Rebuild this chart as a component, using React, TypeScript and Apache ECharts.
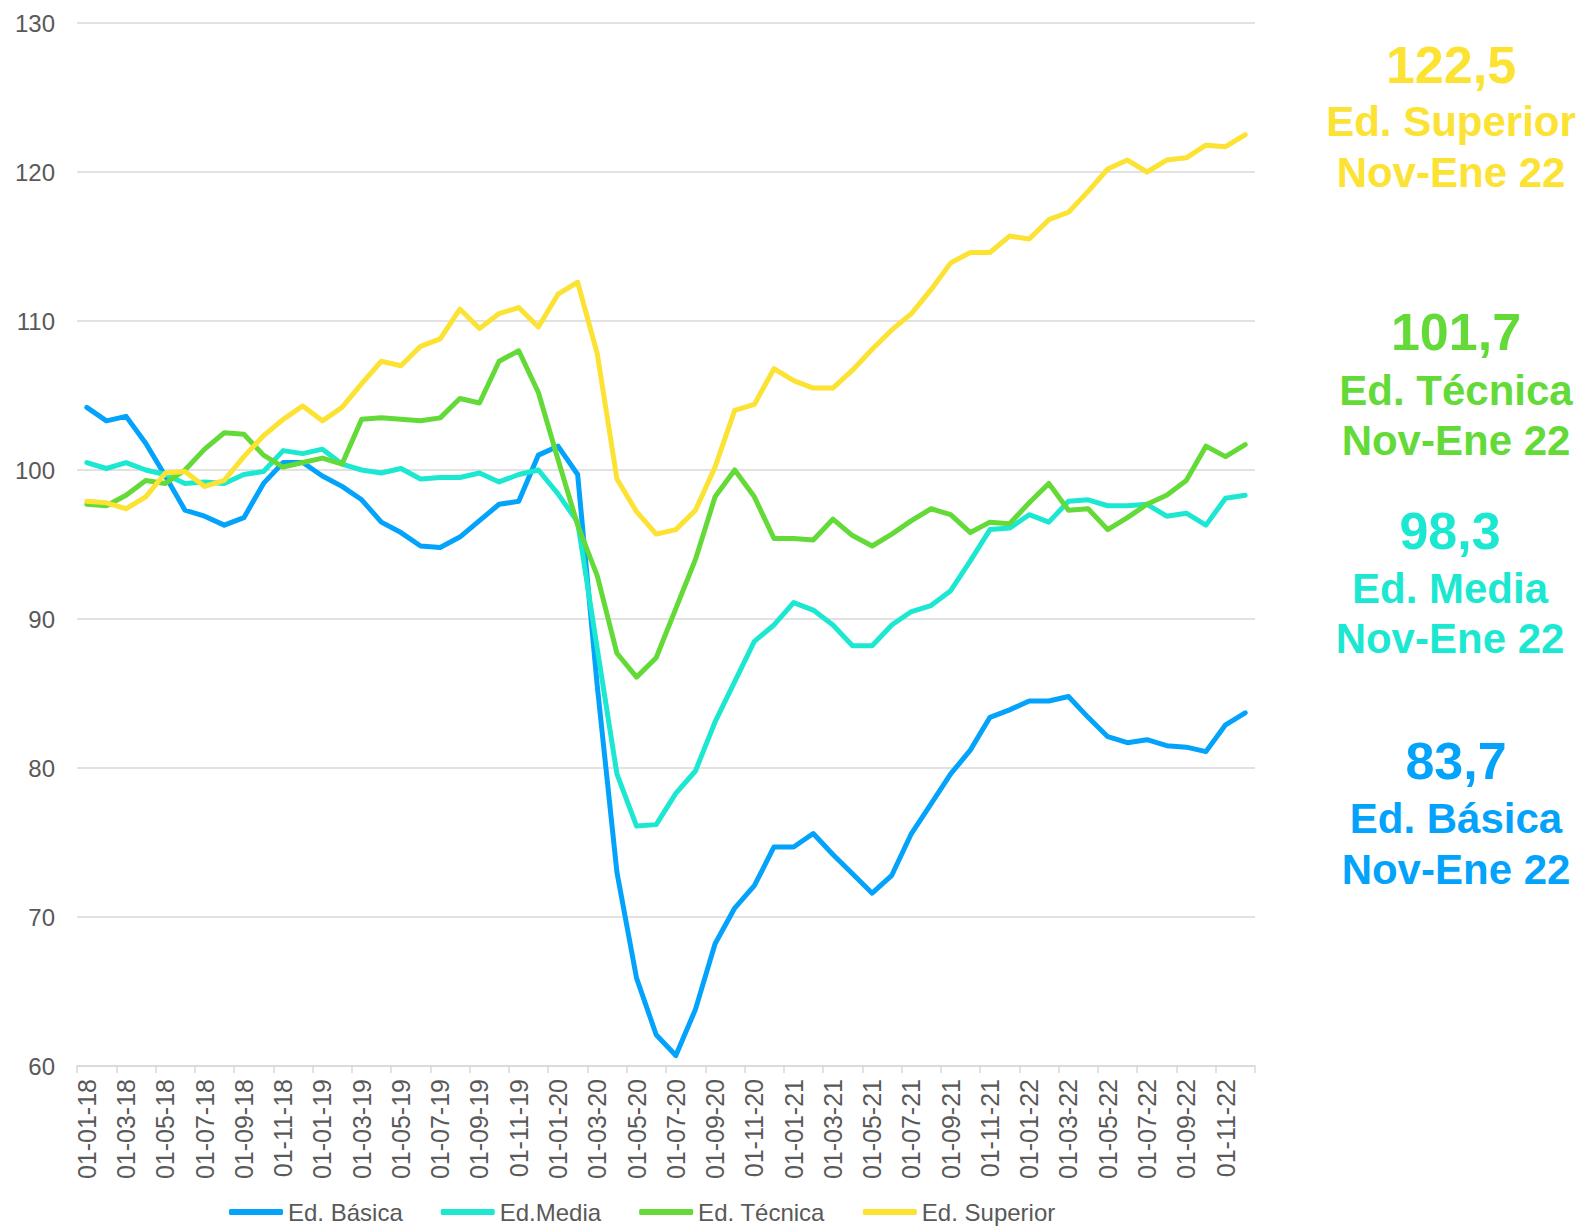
import React, { useEffect, useRef } from "react";
import * as echarts from "echarts";

const categories = [
  "01-01-18", "01-02-18", "01-03-18", "01-04-18", "01-05-18", "01-06-18",
  "01-07-18", "01-08-18", "01-09-18", "01-10-18", "01-11-18", "01-12-18",
  "01-01-19", "01-02-19", "01-03-19", "01-04-19", "01-05-19", "01-06-19",
  "01-07-19", "01-08-19", "01-09-19", "01-10-19", "01-11-19", "01-12-19",
  "01-01-20", "01-02-20", "01-03-20", "01-04-20", "01-05-20", "01-06-20",
  "01-07-20", "01-08-20", "01-09-20", "01-10-20", "01-11-20", "01-12-20",
  "01-01-21", "01-02-21", "01-03-21", "01-04-21", "01-05-21", "01-06-21",
  "01-07-21", "01-08-21", "01-09-21", "01-10-21", "01-11-21", "01-12-21",
  "01-01-22", "01-02-22", "01-03-22", "01-04-22", "01-05-22", "01-06-22",
  "01-07-22", "01-08-22", "01-09-22", "01-10-22", "01-11-22", "01-12-22",
];

const basica = [
  104.2, 103.3, 103.6, 101.8, 99.6, 97.3, 96.9, 96.3, 96.8, 99.1, 100.5, 100.5,
  99.6, 98.9, 98.0, 96.5, 95.8, 94.9, 94.8, 95.5, 96.6, 97.7, 97.9, 101.0,
  101.6, 99.7, 85.5, 73.0, 65.9, 62.1, 60.7, 63.8, 68.2, 70.6, 72.1, 74.7,
  74.7, 75.6, 74.2, 72.9, 71.6, 72.8, 75.6, 77.6, 79.6, 81.2, 83.4, 83.9,
  84.5, 84.5, 84.8, 83.4, 82.1, 81.7, 81.9, 81.5, 81.4, 81.1, 82.9, 83.7,
];

const media = [
  100.5, 100.1, 100.5, 100.0, 99.7, 99.1, 99.2, 99.1, 99.7, 99.9, 101.3, 101.1,
  101.4, 100.4, 100.0, 99.8, 100.1, 99.4, 99.5, 99.5, 99.8, 99.2, 99.7, 100.0,
  98.4, 96.5, 88.0, 79.6, 76.1, 76.2, 78.3, 79.8, 83.1, 85.8, 88.5, 89.6,
  91.1, 90.6, 89.6, 88.2, 88.2, 89.6, 90.5, 90.9, 91.9, 93.9, 96.0, 96.1,
  97.0, 96.5, 97.9, 98.0, 97.6, 97.6, 97.7, 96.9, 97.1, 96.3, 98.1, 98.3,
];

const tecnica = [
  97.7, 97.6, 98.3, 99.3, 99.1, 100.0, 101.4, 102.5, 102.4, 101.0, 100.2, 100.5,
  100.8, 100.4, 103.4, 103.5, 103.4, 103.3, 103.5, 104.8, 104.5, 107.3, 108.0, 105.2,
  100.7, 96.3, 92.9, 87.7, 86.1, 87.4, 90.7, 94.0, 98.2, 100.0, 98.2, 95.4,
  95.4, 95.3, 96.7, 95.6, 94.9, 95.7, 96.6, 97.4, 97.0, 95.8, 96.5, 96.4,
  97.8, 99.1, 97.3, 97.4, 96.0, 96.8, 97.7, 98.3, 99.3, 101.6, 100.9, 101.7,
];

const superior = [
  97.9, 97.8, 97.4, 98.2, 99.8, 99.9, 98.9, 99.3, 100.9, 102.3, 103.4, 104.3,
  103.3, 104.2, 105.8, 107.3, 107.0, 108.3, 108.8, 110.8, 109.5, 110.5, 110.9, 109.6,
  111.8, 112.6, 107.8, 99.4, 97.2, 95.7, 96.0, 97.3, 100.2, 104.0, 104.4, 106.8,
  106.0, 105.5, 105.5, 106.7, 108.1, 109.4, 110.5, 112.1, 113.9, 114.6, 114.6, 115.7,
  115.5, 116.8, 117.3, 118.7, 120.2, 120.8, 120.0, 120.8, 120.95, 121.8, 121.7, 122.5,
];

const seriesNames = ["Ed. Básica", "Ed.Media", "Ed. Técnica", "Ed. Superior"];
const seriesData = [basica, media, tecnica, superior];
const colors = ["#03A3FC", "#1CE8D1", "#63DA38", "#FBE233"];

// right-side callouts
const calloutValues = ["122,5", "101,7", "98,3", "83,7"];
const calloutNames = ["Ed. Superior", "Ed. Técnica", "Ed. Media", "Ed. Básica"];
const calloutPeriod = "Nov-Ene 22";
const calloutColors = [colors[3], colors[2], colors[1], colors[0]];
const calloutX = [1451, 1456, 1450, 1456];
const calloutY = [
  [65, 121, 172],
  [332, 390, 440],
  [531, 588, 638],
  [761, 818, 869],
];

const FONT = '"Liberation Sans", Arial, Helvetica, sans-serif';

function textEl(text: string, x: number, y: number, size: number, color: string) {
  return {
    type: "text",
    x,
    y,
    silent: true,
    style: {
      text,
      fill: color,
      font: `bold ${size}px ${FONT}`,
      fontSize: size,
      fontWeight: "bold",
      fontFamily: FONT,
      textAlign: "center",
      align: "center",
      textVerticalAlign: "middle",
      verticalAlign: "middle",
    },
  };
}

export default function App() {
  const ref = useRef<HTMLDivElement>(null);

  useEffect(() => {
    if (!ref.current) return;
    const chart = echarts.init(ref.current, undefined, { renderer: "svg" });

    const graphics: any[] = [];
    calloutValues.forEach((v, i) => {
      graphics.push(textEl(v, calloutX[i], calloutY[i][0], 52, calloutColors[i]));
      graphics.push(textEl(calloutNames[i], calloutX[i], calloutY[i][1], 42, calloutColors[i]));
      graphics.push(textEl(calloutPeriod, calloutX[i], calloutY[i][2], 42, calloutColors[i]));
    });

    chart.setOption({
      animation: false,
      backgroundColor: "#ffffff",
      textStyle: { fontFamily: FONT },
      grid: { left: 77, right: 322, top: 23, bottom: 164, containLabel: false },
      legend: {
        data: seriesNames,
        left: 229,
        top: 1199,
        padding: 0,
        icon: "roundRect",
        itemWidth: 54,
        itemHeight: 6,
        itemGap: 38,
        textStyle: { color: "#595959", fontSize: 24, lineHeight: 26, fontFamily: FONT },
      },
      xAxis: {
        type: "category",
        data: categories,
        boundaryGap: true,
        axisLine: { show: true, lineStyle: { color: "#D9D9D9", width: 1.5 } },
        axisTick: {
          show: true,
          interval: 1,
          length: 7,
          lineStyle: { color: "#D9D9D9", width: 1.5 },
        },
        axisLabel: {
          interval: 1,
          rotate: 90,
          margin: 13,
          color: "#595959",
          fontSize: 25,
          fontFamily: FONT,
        },
      },
      yAxis: {
        type: "value",
        min: 60,
        max: 130,
        interval: 10,
        axisLine: { show: false },
        axisTick: { show: false },
        axisLabel: { color: "#595959", fontSize: 24, margin: 22, fontFamily: FONT },
        splitLine: { lineStyle: { color: "#D9D9D9", width: 1.5 } },
      },
      series: seriesNames.map((name, i) => ({
        name,
        type: "line",
        data: seriesData[i],
        symbol: "none",
        smooth: false,
        color: colors[i],
        lineStyle: { color: colors[i], width: 5, cap: "round", join: "round" },
        z: 2 + i,
      })),
      graphic: graphics,
    });

    return () => {
      chart.dispose();
    };
  }, []);

  return (
    <div
      ref={ref}
      style={{ position: "fixed", left: 0, top: 0, width: 1577, height: 1230, background: "#fff" }}
    />
  );
}
